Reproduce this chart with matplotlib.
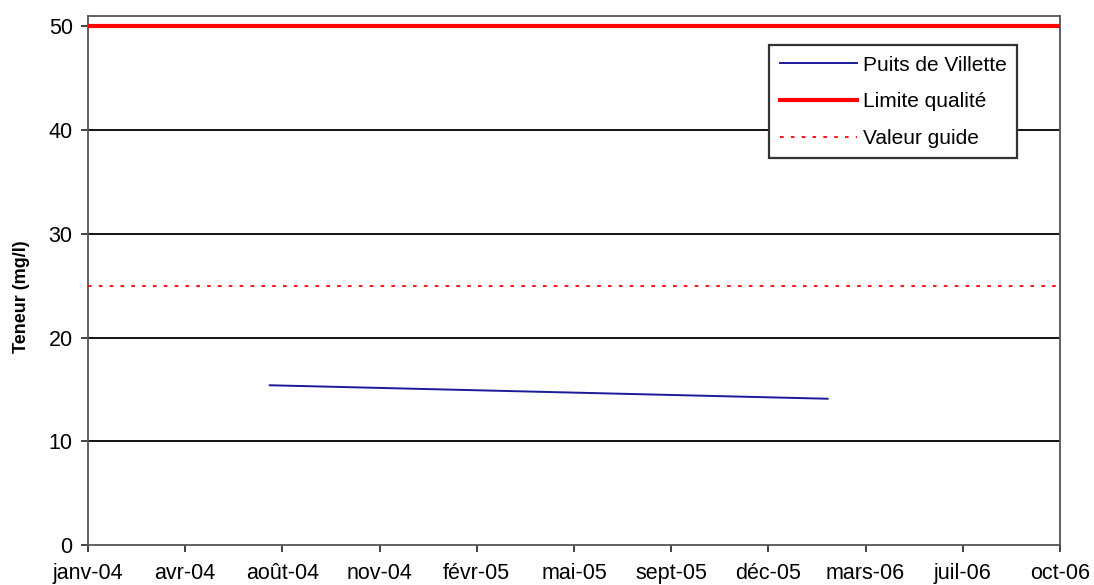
import datetime as dt

import matplotlib
matplotlib.use("Agg")
import matplotlib.pyplot as plt

# data
dates = [dt.date(2004, 7, 20), dt.date(2006, 2, 14)]
teneur = [15.4, 14.1]
limite_qualite = 50
valeur_guide = 25

# axis ticks (Excel-like date axis, 100-day steps)
axis_start = dt.date(2004, 1, 15)
n_ticks = 11
tick_step_days = 100
mois = ["janv", "févr", "mars", "avr", "mai", "juin",
        "juil", "août", "sept", "oct", "nov", "déc"]

plt.rcParams["font.family"] = ["Liberation Sans", "DejaVu Sans"]

fig = plt.figure(figsize=(10.94, 5.85), dpi=100)
ax = fig.add_axes([0.0804, 0.0684, 0.8885, 0.9042])

ticks = [axis_start + dt.timedelta(days=tick_step_days * i) for i in range(n_ticks)]
ax.set_xlim(ticks[0], ticks[-1])
ax.set_xticks(ticks)
ax.set_xticklabels(["%s-%02d" % (mois[t.month - 1], t.year % 100) for t in ticks])

ax.set_ylim(0, 51)
ax.set_yticks([0, 10, 20, 30, 40, 50])
ax.set_ylabel("Teneur (mg/l)", fontsize=13, fontweight="bold")
ax.yaxis.set_label_coords(-0.06, 0.47)

for y in [10, 20, 30, 40]:
    ax.axhline(y, color="black", lw=1.3, zorder=1)

ax.plot(dates, teneur, color="#1a1a9a", lw=1.4, label="Puits de Villette", zorder=3)
ax.axhline(limite_qualite, color="#ff0000", lw=3, label="Limite qualité", zorder=3)
ax.axhline(valeur_guide, color="#ff0000", lw=1.3, ls=(0, (2, 4)), label="Valeur guide", zorder=3)

ax.tick_params(axis="both", labelsize=15.5, direction="out", length=5, width=1.3, colors="#333333")
ax.tick_params(axis="both", labelcolor="black")
ax.tick_params(axis="x", pad=8)
ax.tick_params(axis="y", pad=6)
for s in ax.spines.values():
    s.set_color("#555555")
    s.set_linewidth(1.3)

leg = ax.legend(loc="upper right", bbox_to_anchor=(0.956, 0.945), borderaxespad=0,
                fontsize=15, frameon=True, fancybox=False, edgecolor="#333333",
                framealpha=1, handlelength=3.7, borderpad=0.5, labelspacing=0.85,
                handletextpad=0.3)
leg.get_frame().set_linewidth(1.6)

fig.savefig("out.png", dpi=100)
